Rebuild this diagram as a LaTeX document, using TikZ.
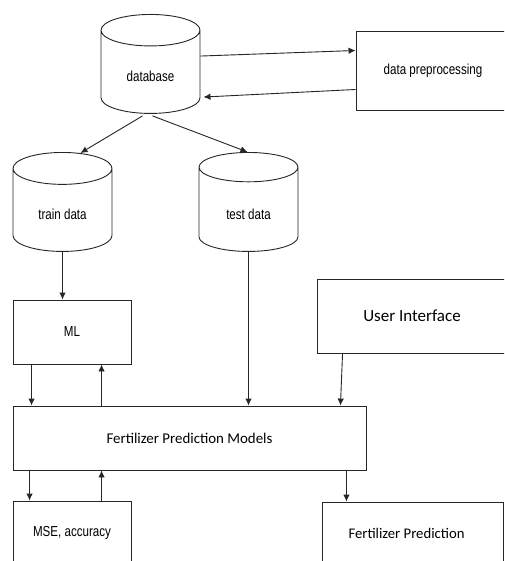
\documentclass[tikz,border=0pt]{standalone}
\usepackage{fontspec}
\newfontfamily\narrowsans[FakeStretch=0.8]{Liberation Sans}
\newfontfamily\calibri{Carlito}
\usepackage{tikz}
\usetikzlibrary{shapes,arrows,arrows.meta,positioning,calc}
\tikzstyle{block} = [rectangle, draw=black!85, line width=0.9pt, inner sep=0pt, font=\narrowsans\fontsize{14.5}{16}\selectfont]
\tikzstyle{store} = [cylinder, shape border rotate=90, draw=black!85, line width=0.9pt, aspect=0.66, minimum width=99pt, minimum height=99pt, inner sep=0pt, text height=19pt, text depth=0pt, font=\narrowsans\fontsize{14.5}{16}\selectfont]
\tikzstyle{line} = [draw=black!85, line width=0.9pt, -{Latex[length=7pt, width=6.5pt]}]
\begin{document}
\begin{tikzpicture}[x=1pt, y=-1pt]
            \useasboundingbox (0,0) rectangle (504,561);
            \clip (0,0) rectangle (504,561);
            \fill[white] (0,0) rectangle (504,561);

            % data stores
            \node[store, anchor=north] (database) at (150.5,14) {database};
            \node[store, anchor=north] (train_data) at (62.5,152) {train data};
            \node[store, anchor=north] (test_data) at (248.5,152) {test data};

            % boxes (the right edge of some runs off the picture)
            \node[block, minimum width=180pt, minimum height=79pt] (preprocessing) at (446,70.5) {data preprocessing\hspace*{26pt}};
            \node[block, minimum width=118pt, minimum height=64pt] (ml) at (72,332) {ML};
            \node[block, minimum width=220pt, minimum height=74pt, font=\calibri\fontsize{17}{20}\selectfont] (interface) at (427,316) {User Interface\hspace*{30pt}};
            \node[block, minimum width=353pt, minimum height=64pt, font=\calibri\fontsize{14.9}{18}\selectfont] (models) at (189.5,438) {Fertilizer Prediction Models};
            \node[block, minimum width=118pt, minimum height=64pt] (metrics) at (72,533) {MSE, accuracy};
            \node[block, minimum width=181pt, minimum height=62pt, font=\calibri\fontsize{14.7}{18}\selectfont] (prediction) at (412.5,533) {Fertilizer Prediction\hspace*{12pt}};

            % connectors
            \path[line] ($(database.east)+(0,-16)$) -- ($(preprocessing.west)+(0,-20)$);
            \path[line] ($(preprocessing.west)+(0,19)$) -- ($(database.east)+(3,25)$);
            \path[line] ($(database.south)+(-8,2)$) -- ($(train_data.north)+(18,1)$);
            \path[line] ($(database.south)+(2,2)$) -- ($(test_data.north)+(-1,0)$);
            \path[line] (train_data.south) -- (train_data.south |- ml.north);
            \path[line] (test_data.south) -- (test_data.south |- models.north);
            \path[line] ($(interface.south west)+(26,0)$) -- ($(models.north east)+(-26,0)$);
            \coordinate (ml_out) at ($(ml.south west)+(19,0)$);
            \path[line] (ml_out) -- (ml_out |- models.north);
            \coordinate (ml_in) at ($(models.north west)+(89,0)$);
            \path[line] (ml_in) -- (ml_in |- ml.south);
            \coordinate (eval_out) at ($(models.south west)+(17,0)$);
            \path[line] (eval_out) -- (eval_out |- metrics.north);
            \coordinate (eval_in) at ($(metrics.north west)+(89,0)$);
            \path[line] (eval_in) -- (eval_in |- models.south);
            \coordinate (pred_out) at ($(models.south east)+(-20,0)$);
            \path[line] (pred_out) -- (pred_out |- prediction.north);
\end{tikzpicture}
\end{document}
